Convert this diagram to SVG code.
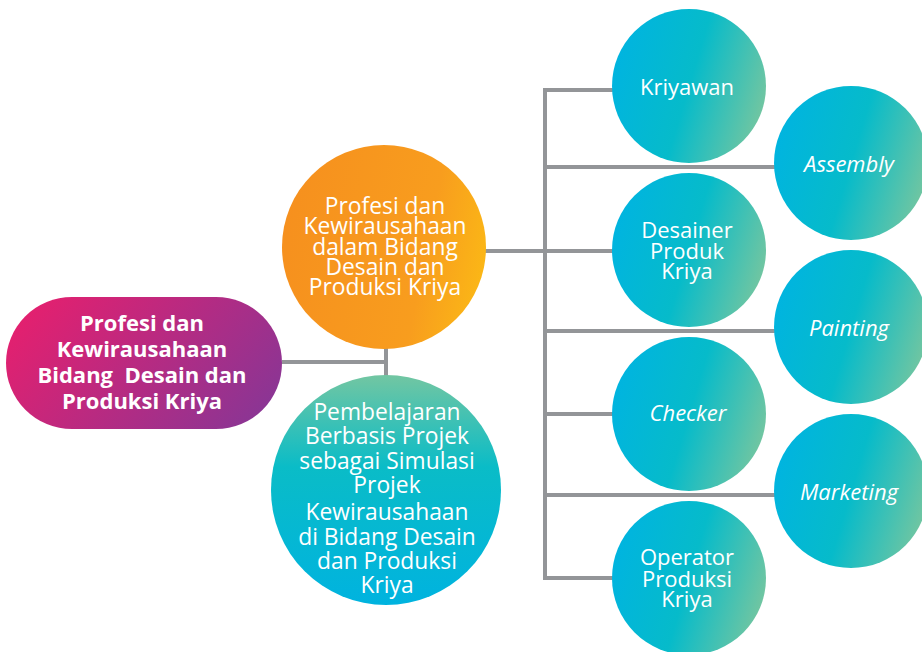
<svg xmlns="http://www.w3.org/2000/svg" width="922" height="652" viewBox="0 0 922 652">
<defs>
<linearGradient id="gPill" x1="0" y1="0.3" x2="1" y2="0.7">
<stop offset="0" stop-color="#e3206f"/>
<stop offset="1" stop-color="#8b3594"/>
</linearGradient>
<linearGradient id="gOrange" x1="0" y1="0.4" x2="1" y2="0.6">
<stop offset="0" stop-color="#f6901e"/>
<stop offset="0.7" stop-color="#f89d1e"/>
<stop offset="1" stop-color="#fbb716"/>
</linearGradient>
<linearGradient id="gBig" x1="0" y1="0" x2="0" y2="1">
<stop offset="0" stop-color="#72c6a2"/>
<stop offset="0.4" stop-color="#0abcc7"/>
<stop offset="1" stop-color="#00b3df"/>
</linearGradient>
<linearGradient id="gSmall" x1="0" y1="0.35" x2="1" y2="0.65">
<stop offset="0" stop-color="#00b4e0"/>
<stop offset="0.5" stop-color="#06bbca"/>
<stop offset="1" stop-color="#74c6a0"/>
</linearGradient>
<style>
.ln{stroke:#939598;stroke-width:4;fill:none}
.t{font-family:"Open Sans","Noto Sans","Liberation Sans",sans-serif;fill:#ffffff;text-anchor:middle;font-size:22px}
.L{font-size:22.8px}
.b{font-weight:bold;white-space:pre}
.i{font-style:italic}
.sm{fill:url(#gSmall)}
</style>
</defs>
<g id="connectors">
<polyline class="ln" points="282,362 386,362"/>
<line class="ln" x1="386" y1="345" x2="386" y2="378"/>
<line class="ln" x1="485" y1="251" x2="545" y2="251"/>
<line class="ln" x1="545" y1="88" x2="545" y2="580"/>
<line class="ln" x1="543" y1="90" x2="614" y2="90"/>
<line class="ln" x1="545" y1="167" x2="776" y2="167"/>
<line class="ln" x1="545" y1="251" x2="614" y2="251"/>
<line class="ln" x1="545" y1="331" x2="776" y2="331"/>
<line class="ln" x1="545" y1="414" x2="614" y2="414"/>
<line class="ln" x1="545" y1="495" x2="776" y2="495"/>
<line class="ln" x1="543" y1="578" x2="614" y2="578"/>
</g>
<g id="root">
<rect x="6" y="297" width="276" height="132" rx="66" fill="url(#gPill)"/>
<text class="t b" x="142" y="331">Profesi dan</text>
<text class="t b" x="142" y="357">Kewirausahaan</text>
<text class="t b" x="142" y="383">Bidang  Desain dan</text>
<text class="t b" x="142" y="409">Produksi Kriya</text>
</g>
<g id="profesi">
<circle cx="384" cy="247" r="102" fill="url(#gOrange)"/>
<text class="t L" x="385" y="214">Profesi dan</text>
<text class="t L" x="385" y="234">Kewirausahaan</text>
<text class="t L" x="385" y="255">dalam Bidang</text>
<text class="t L" x="385" y="275">Desain dan</text>
<text class="t L" x="385" y="295">Produksi Kriya</text>
</g>
<g id="pembelajaran">
<circle cx="386" cy="490" r="115" fill="url(#gBig)"/>
<text class="t L" x="387" y="420">Pembelajaran</text>
<text class="t L" x="387" y="444">Berbasis Projek</text>
<text class="t L" x="387" y="469">sebagai Simulasi</text>
<text class="t L" x="387" y="493">Projek</text>
<text class="t L" x="387" y="520">Kewirausahaan</text>
<text class="t L" x="387" y="545">di Bidang Desain</text>
<text class="t L" x="387" y="569">dan Produksi</text>
<text class="t L" x="387" y="593">Kriya</text>
</g>
<g id="kriyawan">
<circle class="sm" cx="689" cy="86" r="77"/>
<text class="t" x="687" y="95">Kriyawan</text>
</g>
<g id="assembly">
<circle class="sm" cx="851" cy="163" r="77"/>
<text class="t i" x="849" y="172">Assembly</text>
</g>
<g id="desainer">
<circle class="sm" cx="689" cy="250" r="77"/>
<text class="t" x="687" y="238">Desainer</text>
<text class="t" x="687" y="259">Produk</text>
<text class="t" x="687" y="279">Kriya</text>
</g>
<g id="painting">
<circle class="sm" cx="851" cy="327" r="77"/>
<text class="t i" x="849" y="336">Painting</text>
</g>
<g id="checker">
<circle class="sm" cx="689" cy="414" r="77"/>
<text class="t i" x="688" y="421">Checker</text>
</g>
<g id="marketing">
<circle class="sm" cx="851" cy="491" r="77"/>
<text class="t i" x="849" y="500">Marketing</text>
</g>
<g id="operator">
<circle class="sm" cx="689" cy="578" r="77"/>
<text class="t" x="687" y="565">Operator</text>
<text class="t" x="687" y="587">Produksi</text>
<text class="t" x="687" y="607">Kriya</text>
</g>
</svg>
